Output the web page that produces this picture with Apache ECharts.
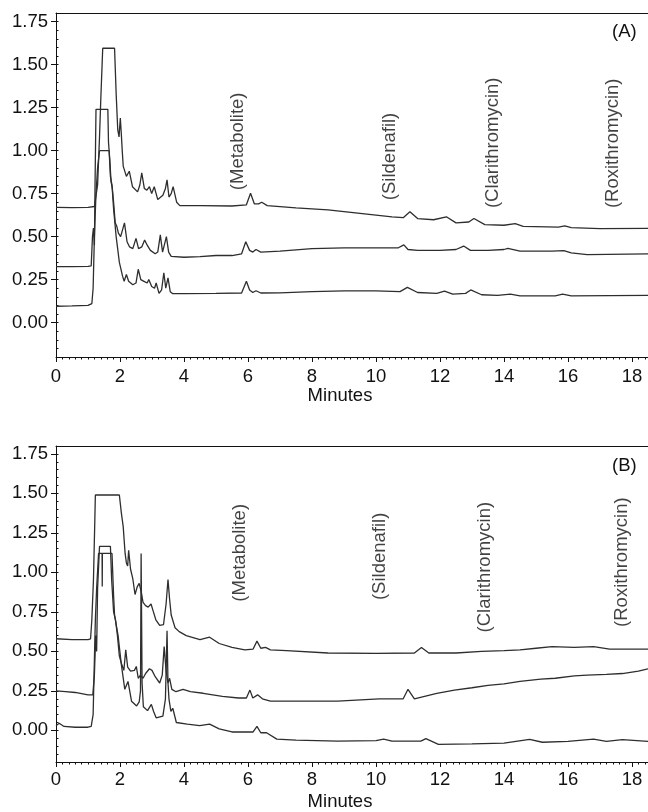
<!DOCTYPE html>
<html>
<head>
    <meta charset="utf-8">
    <title>Chromatograms</title>
    <script src="https://cdn.jsdelivr.net/npm/echarts@6/dist/echarts.min.js"></script>
</head>
<body style="margin:0">
    <div id="main" style="width: 648px;height:812px;"></div>
</body>
<script type="text/javascript">
    // [minutes, signal], top trace first
    var a1 = [[0, 0.67], [0.5, 0.668], [1.0, 0.67], [1.2, 0.675], [1.3, 0.80], [1.36, 1.08], [1.4, 1.3], [1.46, 1.595], [1.83, 1.595], [1.88, 1.33], [1.93, 1.12], [1.97, 1.08], [2.01, 1.19], [2.04, 1.1], [2.07, 1.0], [2.1, 0.91], [2.2, 0.85], [2.29, 0.88], [2.39, 0.79], [2.55, 0.76], [2.62, 0.8], [2.68, 0.87], [2.76, 0.78], [2.84, 0.77], [2.92, 0.79], [2.99, 0.75], [3.07, 0.79], [3.18, 0.715], [3.34, 0.74], [3.42, 0.78], [3.47, 0.83], [3.53, 0.73], [3.6, 0.75], [3.66, 0.79], [3.77, 0.70], [3.87, 0.68], [4.5, 0.68], [5.5, 0.678], [5.95, 0.685], [6.08, 0.752], [6.2, 0.69], [6.33, 0.69], [6.43, 0.70], [6.6, 0.68], [7.5, 0.667], [8.5, 0.655], [9.5, 0.635], [10.5, 0.615], [10.85, 0.61], [11.06, 0.645], [11.3, 0.605], [11.8, 0.598], [12.2, 0.615], [12.5, 0.58], [12.9, 0.585], [13.06, 0.605], [13.4, 0.57], [14.0, 0.566], [14.35, 0.576], [14.6, 0.56], [15.7, 0.555], [15.9, 0.563], [16.1, 0.552], [17.0, 0.546], [18.5, 0.548]];
    var a2 = [[0, 0.325], [0.5, 0.325], [1.0, 0.327], [1.1, 0.33], [1.14, 0.5], [1.17, 0.55], [1.2, 0.45], [1.22, 0.8], [1.25, 1.24], [1.62, 1.24], [1.64, 1.05], [1.68, 0.95], [1.72, 0.82], [1.76, 0.78], [1.8, 0.7], [1.85, 0.58], [1.9, 0.56], [1.95, 0.52], [2.02, 0.5], [2.08, 0.49], [2.14, 0.58], [2.22, 0.47], [2.3, 0.44], [2.4, 0.43], [2.5, 0.49], [2.58, 0.43], [2.68, 0.44], [2.77, 0.48], [2.85, 0.45], [2.95, 0.42], [3.1, 0.4], [3.18, 0.41], [3.26, 0.51], [3.33, 0.41], [3.38, 0.42], [3.45, 0.5], [3.52, 0.41], [3.6, 0.385], [4.0, 0.38], [4.5, 0.383], [5.0, 0.39], [5.5, 0.39], [5.8, 0.40], [5.93, 0.47], [6.05, 0.42], [6.15, 0.41], [6.25, 0.425], [6.4, 0.41], [7.0, 0.415], [8.0, 0.43], [9.0, 0.435], [10.0, 0.435], [10.7, 0.435], [10.87, 0.452], [11.0, 0.425], [11.3, 0.42], [12.0, 0.42], [12.5, 0.425], [12.74, 0.445], [12.95, 0.42], [13.5, 0.42], [14.0, 0.425], [14.12, 0.432], [14.5, 0.415], [15.5, 0.415], [15.87, 0.418], [16.1, 0.405], [16.6, 0.395], [18.5, 0.40]];
    var a3 = [[0, 0.095], [0.5, 0.097], [1.0, 0.1], [1.12, 0.11], [1.16, 0.2], [1.2, 0.5], [1.25, 0.75], [1.3, 0.9], [1.36, 1.0], [1.66, 1.0], [1.7, 0.85], [1.75, 0.8], [1.8, 0.66], [1.88, 0.5], [1.98, 0.35], [2.08, 0.27], [2.13, 0.24], [2.2, 0.28], [2.27, 0.24], [2.4, 0.22], [2.5, 0.23], [2.57, 0.31], [2.65, 0.25], [2.75, 0.24], [2.85, 0.23], [2.9, 0.25], [2.99, 0.21], [3.08, 0.2], [3.13, 0.23], [3.22, 0.17], [3.3, 0.19], [3.37, 0.29], [3.43, 0.2], [3.5, 0.26], [3.57, 0.18], [3.65, 0.168], [4.0, 0.168], [5.0, 0.17], [5.8, 0.172], [5.95, 0.24], [6.05, 0.19], [6.15, 0.175], [6.25, 0.185], [6.4, 0.172], [7.0, 0.173], [8.0, 0.18], [9.0, 0.185], [10.0, 0.185], [10.75, 0.18], [10.98, 0.205], [11.3, 0.175], [11.9, 0.17], [12.14, 0.183], [12.4, 0.165], [12.8, 0.17], [12.96, 0.19], [13.3, 0.162], [13.8, 0.158], [14.2, 0.165], [14.5, 0.155], [15.6, 0.155], [15.83, 0.165], [16.1, 0.155], [18.5, 0.158]];

    var b1 = [[0, 0.58], [0.5, 0.575], [1.0, 0.575], [1.08, 0.58], [1.12, 0.7], [1.17, 0.95], [1.21, 1.3], [1.23, 1.49], [1.98, 1.49], [2.04, 1.38], [2.1, 1.29], [2.16, 1.12], [2.2, 1.06], [2.24, 1.04], [2.27, 1.14], [2.3, 1.14], [2.33, 1.02], [2.4, 0.96], [2.47, 0.86], [2.54, 0.91], [2.6, 0.93], [2.66, 0.88], [2.72, 0.81], [2.8, 0.79], [2.88, 0.78], [2.97, 0.80], [3.03, 0.76], [3.12, 0.70], [3.24, 0.665], [3.36, 0.67], [3.44, 0.8], [3.5, 0.955], [3.55, 0.83], [3.6, 0.73], [3.65, 0.72], [3.72, 0.65], [3.85, 0.625], [4.07, 0.60], [4.5, 0.575], [4.8, 0.59], [5.1, 0.55], [5.5, 0.525], [5.9, 0.51], [6.16, 0.515], [6.28, 0.565], [6.4, 0.52], [6.55, 0.525], [6.7, 0.51], [7.2, 0.505], [8.5, 0.49], [10.0, 0.488], [11.2, 0.49], [11.42, 0.525], [11.65, 0.49], [12.5, 0.49], [13.3, 0.5], [14.0, 0.505], [14.5, 0.51], [15.0, 0.52], [15.5, 0.53], [16.2, 0.525], [16.8, 0.53], [17.3, 0.515], [18.5, 0.515]];
    var b2 = [[0, 0.25], [0.3, 0.245], [0.6, 0.24], [1.0, 0.225], [1.15, 0.225], [1.2, 0.35], [1.24, 0.6], [1.27, 0.5], [1.3, 0.9], [1.36, 1.165], [1.7, 1.165], [1.74, 0.95], [1.8, 0.75], [1.86, 0.7], [1.92, 0.6], [1.98, 0.47], [2.05, 0.42], [2.12, 0.38], [2.18, 0.51], [2.24, 0.4], [2.33, 0.375], [2.45, 0.38], [2.51, 0.405], [2.57, 0.33], [2.64, 0.35], [2.72, 0.33], [2.8, 0.36], [2.92, 0.39], [3.0, 0.38], [3.1, 0.34], [3.24, 0.30], [3.32, 0.35], [3.38, 0.53], [3.44, 0.38], [3.5, 0.3], [3.55, 0.33], [3.62, 0.26], [3.75, 0.245], [3.97, 0.26], [4.2, 0.245], [4.6, 0.235], [5.2, 0.215], [5.7, 0.205], [5.95, 0.205], [6.06, 0.255], [6.15, 0.205], [6.3, 0.225], [6.45, 0.2], [6.7, 0.185], [7.5, 0.185], [8.8, 0.185], [10.1, 0.2], [10.85, 0.2], [11.0, 0.26], [11.2, 0.2], [11.9, 0.235], [12.45, 0.255], [13.0, 0.27], [13.5, 0.285], [14.0, 0.295], [14.5, 0.31], [15.15, 0.325], [15.6, 0.33], [16.2, 0.345], [16.6, 0.35], [17.2, 0.355], [17.7, 0.36], [18.2, 0.375], [18.5, 0.39]];
    var b3 = [[0, 0.03], [0.1, 0.045], [0.25, 0.025], [0.6, 0.02], [1.0, 0.02], [1.1, 0.025], [1.16, 0.1], [1.2, 0.45], [1.23, 0.7], [1.27, 0.9], [1.33, 1.12], [1.44, 1.12], [1.445, 0.91], [1.45, 1.12], [1.75, 1.12], [1.8, 0.85], [1.83, 0.73], [1.94, 0.6], [2.04, 0.42], [2.15, 0.26], [2.25, 0.31], [2.36, 0.185], [2.52, 0.155], [2.6, 0.18], [2.64, 0.25], [2.66, 1.12], [2.69, 0.3], [2.73, 0.15], [2.86, 0.125], [2.98, 0.165], [3.05, 0.12], [3.13, 0.08], [3.34, 0.09], [3.42, 0.2], [3.47, 0.63], [3.5, 0.3], [3.53, 0.2], [3.59, 0.12], [3.65, 0.14], [3.76, 0.05], [4.1, 0.04], [4.49, 0.03], [4.8, 0.04], [5.1, 0.01], [5.5, -0.01], [6.16, -0.01], [6.28, 0.025], [6.4, -0.015], [6.58, -0.015], [6.9, -0.055], [7.5, -0.062], [8.8, -0.068], [10.0, -0.065], [10.24, -0.055], [10.5, -0.068], [11.4, -0.068], [11.56, -0.052], [11.95, -0.088], [13.0, -0.085], [14.0, -0.08], [14.8, -0.057], [15.2, -0.075], [16.0, -0.07], [16.8, -0.055], [17.2, -0.07], [17.7, -0.058], [18.5, -0.07]];

    // peak labels: name, minutes, signal at the lower end of the text
    var compounds = ['(Metabolite)', '(Sildenafil)', '(Clarithromycin)', '(Roxithromycin)'];
    var labelPosA = [[5.69, 0.77], [10.44, 0.712], [13.66, 0.666], [17.4, 0.666]];
    var labelPosB = [[5.75, 0.815], [10.13, 0.825], [13.4, 0.62], [17.69, 0.655]];
    var yTicks = [0, 0.25, 0.5, 0.75, 1.0, 1.25, 1.5, 1.75];

    var font = '"Liberation Sans", Arial, sans-serif';
    var fs = 18.5;
    var ink = '#111';
    var traceColor = '#2e2e2e';

    function bottomX(i, margin, gap) {
        return {
            gridIndex: i, type: 'value', min: 0, max: 18.5, interval: 2, position: 'bottom',
            axisLine: { onZero: false, lineStyle: { color: ink, width: 1 } },
            axisTick: { length: 5, lineStyle: { color: ink } },
            minorTick: { show: true, splitNumber: 10, length: 2.5, lineStyle: { color: ink } },
            axisLabel: { fontSize: fs, color: ink, fontFamily: font, margin: margin, showMaxLabel: false },
            splitLine: { show: false },
            name: 'Minutes', nameLocation: 'middle', nameGap: gap,
            nameTextStyle: { fontSize: fs, color: ink, fontFamily: font, padding: [0, 24, 0, 0] }
        };
    }
    function topX(i) {
        return {
            gridIndex: i, type: 'value', min: 0, max: 18.5, position: 'top',
            axisLine: { onZero: false, lineStyle: { color: ink, width: 1 } },
            axisTick: { show: false }, axisLabel: { show: false }, splitLine: { show: false }
        };
    }
    function majorY(i) {
        return {
            gridIndex: i, type: 'value', min: -0.2, max: 1.8,
            axisLine: { show: true, onZero: false, lineStyle: { color: ink, width: 1 } },
            axisTick: { show: true, length: 5, customValues: yTicks, lineStyle: { color: ink } },
            axisLabel: {
                customValues: yTicks, fontSize: fs, color: ink, fontFamily: font, margin: 8,
                formatter: function (v) { return v.toFixed(2); }
            },
            splitLine: { show: false }
        };
    }
    function minorY(i) {
        return {
            gridIndex: i, type: 'value', min: -0.2, max: 1.8, interval: 0.05,
            axisLine: { show: false },
            axisTick: { show: true, length: 2.5, lineStyle: { color: ink } },
            axisLabel: { show: false }, splitLine: { show: false }
        };
    }
    function trace(data, xi, yi) {
        return {
            type: 'line', xAxisIndex: xi, yAxisIndex: yi, data: data,
            showSymbol: false, symbol: 'none', animation: false,
            lineStyle: { color: traceColor, width: 1.3 }
        };
    }
    function peakNames(pos, xi, yi) {
        return {
            type: 'scatter', xAxisIndex: xi, yAxisIndex: yi, symbolSize: 0, animation: false,
            data: pos.map(function (p, k) { return { value: p, name: compounds[k] }; }),
            label: {
                show: true, formatter: '{b}', position: 'top', distance: 0, rotate: 90,
                align: 'left', verticalAlign: 'middle',
                fontSize: fs, color: ink, fontFamily: font
            }
        };
    }

    var chart = echarts.init(document.getElementById('main'));
    chart.setOption({
        backgroundColor: '#fff',
        grid: [
            { left: 56, right: 0, top: 13, height: 344 },
            { left: 56, right: 0, top: 446, height: 317 }
        ],
        xAxis: [bottomX(0, 10, 29), topX(0), bottomX(1, 8, 30), topX(1)],
        yAxis: [majorY(0), minorY(0), majorY(1), minorY(1)],
        graphic: [
            { type: 'text', left: 612, top: 22, style: { text: '(A)', fontSize: fs, fill: ink, fontFamily: font } },
            { type: 'text', left: 612, top: 456, style: { text: '(B)', fontSize: fs, fill: ink, fontFamily: font } }
        ],
        series: [
            trace(a1, 0, 0), trace(a2, 0, 0), trace(a3, 0, 0), peakNames(labelPosA, 0, 0),
            trace(b1, 2, 2), trace(b2, 2, 2), trace(b3, 2, 2), peakNames(labelPosB, 2, 2)
        ]
    });
</script>
</html>
